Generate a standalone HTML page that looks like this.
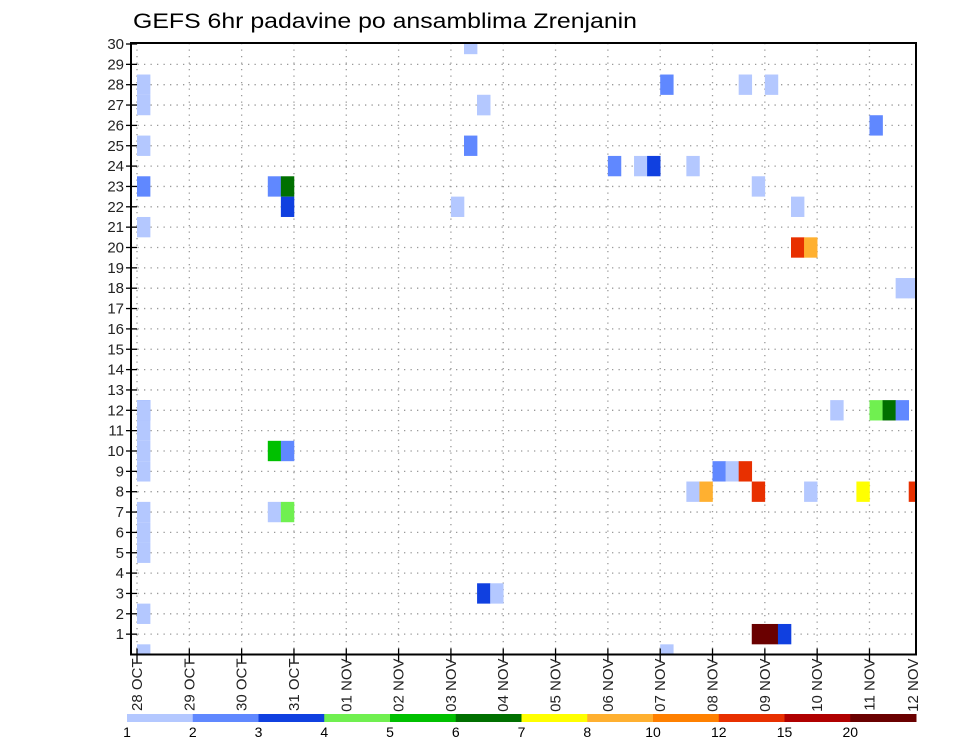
<!DOCTYPE html>
<html><head><meta charset="utf-8"><style>
html,body{margin:0;padding:0;background:#fff;}
svg{display:block;font-family:"Liberation Sans",sans-serif;}
</style></head><body>
<svg id="chart" width="960" height="742" viewBox="0 0 960 742" xmlns="http://www.w3.org/2000/svg">
<text x="133" y="28" font-size="21" textLength="504" lengthAdjust="spacingAndGlyphs" fill="#000">GEFS 6hr padavine po ansamblima Zrenjanin</text>
<g id="grid"></g>
<g id="cells"></g>
<g id="axes"></g>
<g id="cbar"></g>
</svg>
<script>
// data: ensemble member, 6-hr step index (end of interval, from 28 OCT 00Z), precip value (mm)
const members = [30,28,27,28,28,28,27,27,25,25,24,24,24,24,23,23,23,23,22,22,22,21,20,20,18,18,12,11,10,9,12,12,12,12,12,10,10,9,9,9,8,8,8,8,8,8,7,6,5,7,7,3,3,2,1,1,1,0,0,26];
const steps   = [26,1,1,41,47,49,27,27,1,26,37,39,40,43,1,11,12,48,12,25,51,1,51,52,59,60,1,1,1,1,54,57,58,59,1,11,12,45,46,47,43,44,48,52,56,60,1,1,1,11,12,27,28,1,48,49,50,1,41,57];
const values  = [1.5,1.5,1.5,2.5,1.5,1.5,1.5,1.5,1.5,2.5,2.5,1.5,3.5,1.5,2.5,2.5,6.5,1.5,3.5,1.5,1.5,1.5,13,9,1.5,1.5,2.5,1.5,1.5,1.5,1.5,4.5,6.5,2.5,1.5,5.5,2.5,2.5,1.5,13,1.5,9,13,1.5,7.5,13,1.5,1.5,1.5,1.5,4.5,3.5,1.5,1.5,22,22,3.5,1.5,1.5,2.5];
const dayLabels = ["28 OCT","29 OCT","30 OCT","31 OCT","01 NOV","02 NOV","03 NOV","04 NOV","05 NOV","06 NOV","07 NOV","08 NOV","09 NOV","10 NOV","11 NOV","12 NOV"];
const memberTicks = [1,2,3,4,5,6,7,8,9,10,11,12,13,14,15,16,17,18,19,20,21,22,23,24,25,26,27,28,29,30];
const levels = [1,2,3,4,5,6,7,8,10,12,15,20];
const colors = ["#b4c8ff","#6088ff","#1040e0","#70f050","#00c000","#007000","#ffff00","#ffb030","#ff8000","#e83000","#b00000","#6a0000"];

const NS="http://www.w3.org/2000/svg";
const L=131,R=916,T=43,B=654.5,X0=137,STEP=13.08,ROW=20.35;
function xs(k){return X0+STEP*k;}
function ys(m){return B-ROW*m;}
function mk(tag,attrs,parent){const e=document.createElementNS(NS,tag);for(const k in attrs)e.setAttribute(k,attrs[k]);parent.appendChild(e);return e;}
function colorFor(v){let i=0;for(let j=0;j<levels.length;j++){if(v>=levels[j])i=j;}return colors[i];}

const grid=document.getElementById('grid');
memberTicks.forEach(m=>{if(m>=30)return;
 const ln=mk('line',{x1:L,x2:R,y1:ys(m),y2:ys(m),stroke:'#999','stroke-width':1.3,'stroke-dasharray':'1.3 5.2'},grid);
 
 
});
dayLabels.forEach((d,i)=>{const x=xs(i*4);if(x<=L+2||x>=R)return;
 const ln=mk('line',{x1:x,x2:x,y1:T,y2:B,stroke:'#999','stroke-width':1.3,'stroke-dasharray':'1.3 5.2'},grid);
 
 
});

const cells=document.getElementById('cells');
const clip=mk('clipPath',{id:'pc'},cells);
mk('rect',{x:L,y:T,width:R-L,height:B-T},clip);
const cg=mk('g',{'clip-path':'url(#pc)'},cells);
for(let i=0;i<members.length;i++){
 const r=mk('rect',{x:xs(steps[i]-1),y:ys(members[i])-ROW/2,width:STEP+0.3,height:ROW,fill:colorFor(values[i])},cg);
 
 
}

const axes=document.getElementById('axes');
const fr=mk('rect',{x:L,y:T,width:R-L,height:B-T,fill:'none',stroke:'#000','stroke-width':2},axes);


memberTicks.forEach(m=>{const y=ys(m);
 mk('line',{x1:L-5,x2:L+6,y1:y,y2:y,stroke:'#000','stroke-width':1.3},axes);
 const t=mk('text',{x:L-7,y:y+5,'font-size':15,'text-anchor':'end',fill:'#222'},axes);t.textContent=m;
 
 
});
dayLabels.forEach((d,i)=>{const x=Math.min(xs(i*4),R-3);
 if(i<15) mk('line',{x1:x,x2:x,y1:B-6,y2:B+8,stroke:'#000','stroke-width':1.3},axes);
 const t=mk('text',{x:0,y:0,'font-size':15,'text-anchor':'end',fill:'#222',transform:`translate(${x+5},${B+4}) rotate(-90)`},axes);t.textContent=d;
 
 
});

const cb=document.getElementById('cbar');
const cx0=127,cx1=916,cw=(cx1-cx0)/colors.length;
colors.forEach((c,i)=>{
 const r=mk('rect',{x:cx0+i*cw,y:714,width:cw+0.5,height:8,fill:c},cb);
 
 
 const t=mk('text',{x:cx0+i*cw,y:737,'font-size':14,'text-anchor':'middle',fill:'#000'},cb);t.textContent=levels[i];
 
 
});
</script>
</body></html>
